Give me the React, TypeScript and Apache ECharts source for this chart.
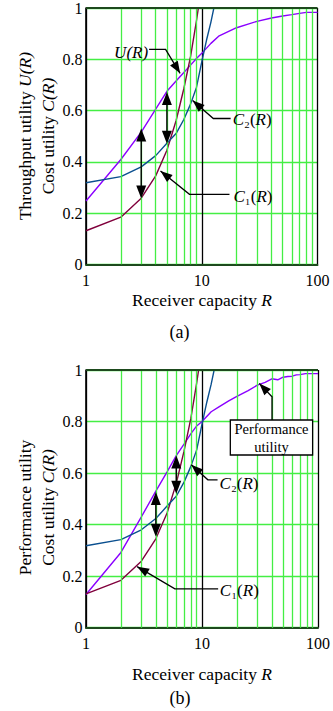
import React, { useEffect, useRef } from 'react';
import * as echarts from 'echarts';

const FONT = 'Liberation Serif, Times New Roman, serif';

// ---- data ----
const R_U_TOP = [1, 2, 3, 4, 5, 6, 7, 8, 9, 10, 12, 14, 20, 30, 40, 50, 60, 70, 80, 90, 100];
const U_TOP = [0.247, 0.409, 0.516, 0.605, 0.675, 0.715, 0.748, 0.777, 0.803, 0.823, 0.862, 0.89, 0.923, 0.948, 0.961, 0.969, 0.974, 0.979, 0.983, 0.983, 0.983];

const R_U_BOTTOM = [1, 2, 3, 4, 5, 6, 7, 8, 9, 10, 12, 14, 17, 20, 25, 30, 35, 40, 45, 50, 55, 60, 65, 70, 78, 85, 100];
const U_BOTTOM = [0.129, 0.292, 0.43, 0.53, 0.605, 0.668, 0.712, 0.752, 0.783, 0.8, 0.838, 0.857, 0.88, 0.898, 0.92, 0.941, 0.952, 0.966, 0.962, 0.972, 0.975, 0.976, 0.981, 0.982, 0.986, 0.986, 0.986];

const R_C1 = [1, 2, 3, 4, 5, 6, 7, 8, 9, 10];
const C1 = [0.131, 0.184, 0.258, 0.345, 0.445, 0.56, 0.685, 0.81, 0.95, 1.09];

const R_C2 = [1, 2, 3, 4, 5, 6, 7, 8, 9, 10, 11, 12, 13];
const C2 = [0.318, 0.342, 0.38, 0.424, 0.472, 0.51, 0.565, 0.625, 0.69, 0.79, 0.875, 0.945, 1.02];

const MINOR_R = [2, 3, 4, 5, 6, 7, 8, 9, 20, 30, 40, 50, 60, 70, 80, 90];

// double arrows: [R, upper value, lower value]
const GAPS_TOP = [[3, 0.53, 0.257], [5, 0.672, 0.47]];
const GAPS_BOTTOM = [[4, 0.527, 0.353], [6, 0.668, 0.52]];

// leader annotations: tip in data coords, path/text offsets in px from tip
type Leader = {
  r: number; v: number;
  path: number[][];
  text?: string; tx?: number; ty?: number; align?: string;
  box?: number[]; lines?: string[];
};

const LEADERS_TOP: Leader[] = [
  { r: 6.5, v: 0.745, path: [[-31, -24], [-14.5, -24]], text: '{i|U(R)}', tx: -32, ty: -21, align: 'right' },
  { r: 8.34, v: 0.639, path: [[38, 18], [20.7, 18]], text: '{i|C}{n|₂}{n|(}{i|R}{n|)}', tx: 40, ty: 18.5, align: 'left' },
  { r: 4.4, v: 0.364, path: [[69, 23.3], [29, 23.3]], text: '{i|C}{n|₁}{n|(}{i|R}{n|)}', tx: 73, ty: 25.5, align: 'left' },
];

const LEADERS_BOTTOM: Leader[] = [
  { r: 31.2, v: 0.948, path: [[12.7, 36.6], [12.7, 13.3]], box: [-29, 36.6, 82.3, 35], lines: ['Performance', 'utility'] },
  { r: 8.08, v: 0.632, path: [[26.3, 15], [16.6, 15]], text: '{i|C}{n|₂}{n|(}{i|R}{n|)}', tx: 28.3, ty: 19, align: 'left' },
  { r: 2.76, v: 0.237, path: [[81, 22.3], [37.7, 22.3]], text: '{i|C}{n|₁}{n|(}{i|R}{n|)}', tx: 82.7, ty: 23.5, align: 'left' },
];

const GREEN = '#44ee44';
const DARKGREEN = '#1d4a1d';
const PURPLE = '#8a00ff';
const MAROON = '#80003c';
const BLUE = '#0a4f8f';

const rich = (size: number) => ({
  i: { fontFamily: FONT, fontSize: size, fontStyle: 'italic', fill: '#000' },
  n: { fontFamily: FONT, fontSize: size, fill: '#000' },
});

function head(tip: number[], from: number[], L = 12, W = 4.5) {
  const dx = tip[0] - from[0];
  const dy = tip[1] - from[1];
  const len = Math.hypot(dx, dy) || 1;
  const ux = dx / len;
  const uy = dy / len;
  const bx = tip[0] - ux * L;
  const by = tip[1] - uy * L;
  return {
    type: 'polygon',
    shape: { points: [tip, [bx - uy * W, by + ux * W], [bx + uy * W, by - ux * W]] },
    style: { fill: '#000' },
  };
}

function makeRender(gaps: number[][], leaders: Leader[]) {
  return (params: any, api: any) => {
    const i = params.dataIndex;
    if (i < gaps.length) {
      const [r, hi, lo] = gaps[i];
      const p1 = api.coord([r, hi]);
      const p2 = api.coord([r, lo]);
      return {
        type: 'group',
        children: [
          { type: 'line', shape: { x1: p1[0], y1: p1[1] + 6, x2: p2[0], y2: p2[1] - 6 }, style: { stroke: '#000', lineWidth: 1.4 } },
          head(p1, p2, 13, 5),
          head(p2, p1, 13, 5),
        ],
      };
    }
    const a = leaders[i - gaps.length];
    const tip = api.coord([a.r, a.v]);
    const pts = a.path.map((p) => [tip[0] + p[0], tip[1] + p[1]]);
    const last = pts[pts.length - 1];
    const children: any[] = [
      { type: 'polyline', shape: { points: [...pts, tip] }, style: { stroke: '#000', lineWidth: 1.3, fill: null } },
      head(tip, last, 12, 4.5),
    ];
    if (a.text) {
      children.push({
        type: 'text',
        x: tip[0] + (a.tx as number),
        y: tip[1] + (a.ty as number),
        style: {
          text: a.text, rich: rich(17), fontFamily: FONT, fontSize: 17, fill: '#000',
          align: a.align, verticalAlign: 'middle',
        },
      });
    }
    if (a.box && a.lines) {
      const [bx, by, bw, bh] = a.box;
      children.push({
        type: 'rect',
        shape: { x: tip[0] + bx, y: tip[1] + by, width: bw, height: bh },
        style: { stroke: '#000', lineWidth: 1.3, fill: '#fff' },
      });
      a.lines.forEach((ln, k) => {
        children.push({
          type: 'text',
          x: tip[0] + bx + bw / 2,
          y: tip[1] + by + 8.5 + k * 18.3,
          style: { text: ln, fontFamily: FONT, fontSize: 14.5, fill: '#000', align: 'center', verticalAlign: 'middle' },
        });
      });
    }
    return { type: 'group', children };
  };
}

const pairs = (xs: number[], ys: number[]) => xs.map((x, k) => [x, ys[k]]);

function buildOption() {
  const grids = [
    { left: 86, top: 7.3, width: 231.5, height: 257 },
    { left: 86, top: 370, width: 232.3, height: 257.7 },
  ];
  const xAxis = [0, 1].map((g) => ({
    gridIndex: g, type: 'log', logBase: 10, min: 1, max: 100,
    axisLine: { show: true, onZero: false, lineStyle: { color: DARKGREEN, width: 2 } },
    axisTick: { show: false },
    axisLabel: { margin: 8, fontFamily: FONT, fontSize: 16, color: '#000' },
    splitLine: { show: true, lineStyle: { color: '#000', width: 1.3 } },
    minorSplitLine: { show: false },
  }));
  const yAxis = [0, 1].map((g) => ({
    gridIndex: g, type: 'value', min: 0, max: 1, interval: 0.2,
    axisLine: { show: true, onZero: false, lineStyle: { color: '#000', width: 1.6 } },
    axisTick: { show: false },
    axisLabel: { margin: 3.5, fontFamily: FONT, fontSize: 16, color: '#000' },
    splitLine: { show: true, lineStyle: { color: GREEN, width: 1.3 } },
  }));

  const series: any[] = [];
  [0, 1].forEach((g) => {
    series.push({
      type: 'line', xAxisIndex: g, yAxisIndex: g, data: [], z: 1, silent: true,
      markLine: {
        silent: true, symbol: 'none', label: { show: false }, animation: false,
        lineStyle: { color: GREEN, width: 1.3, type: 'solid' },
        data: [
          ...MINOR_R.map((r) => ({ xAxis: r })),
          { yAxis: 1, lineStyle: { color: DARKGREEN, width: 2, type: 'solid' } },
        ],
      },
    });
    const U = g === 0 ? pairs(R_U_TOP, U_TOP) : pairs(R_U_BOTTOM, U_BOTTOM);
    const curves = [
      { data: U, color: PURPLE },
      { data: pairs(R_C1, C1), color: MAROON },
      { data: pairs(R_C2, C2), color: BLUE },
    ];
    curves.forEach((c) => {
      series.push({
        type: 'line', xAxisIndex: g, yAxisIndex: g, data: c.data, showSymbol: false, symbol: 'none',
        lineStyle: { color: c.color, width: 1.4 }, clip: true, z: 3, silent: true,
      });
    });
    const gaps = g === 0 ? GAPS_TOP : GAPS_BOTTOM;
    const leaders = g === 0 ? LEADERS_TOP : LEADERS_BOTTOM;
    series.push({
      type: 'custom', xAxisIndex: g, yAxisIndex: g, z: 5, clip: false, silent: true,
      data: [...gaps.map((q) => [q[0], q[1]]), ...leaders.map((l) => [l.r, l.v])],
      renderItem: makeRender(gaps, leaders),
    });
  });

  const txt = (x: number, y: number, text: string, size: number, rot = 0) => ({
    type: 'text', x, y, rotation: rot, silent: true,
    style: { text, rich: rich(size), fontFamily: FONT, fontSize: size, fill: '#000', align: 'center', verticalAlign: 'middle' },
  });

  const graphic = [
    txt(25, 136, '{n|Throughput utility }{i|U(R)}', 17.5, Math.PI / 2),
    txt(48, 136, '{n|Cost utility }{i|C(R)}', 17.5, Math.PI / 2),
    txt(202, 299.5, '{n|Receiver capacity }{i|R}', 17.5),
    txt(179.5, 331.7, '{n|(a)}', 18),
    txt(25, 507.5, '{n|Performance utility}', 17.5, Math.PI / 2),
    txt(48, 507.5, '{n|Cost utility }{i|C(R)}', 17.5, Math.PI / 2),
    txt(202, 674, '{n|Receiver capacity }{i|R}', 17.5),
    txt(180, 698.3, '{n|(b)}', 18),
  ];

  return {
    animation: false,
    backgroundColor: '#fff',
    textStyle: { fontFamily: FONT },
    grid: grids,
    xAxis,
    yAxis,
    series,
    graphic,
  };
}

export default function App() {
  const ref = useRef<HTMLDivElement>(null);
  useEffect(() => {
    if (!ref.current) return;
    const chart = echarts.init(ref.current, undefined, { renderer: 'svg' });
    chart.setOption(buildOption() as any);
    return () => chart.dispose();
  }, []);
  return (
    <div
      ref={ref}
      style={{ position: 'fixed', left: 0, top: 0, width: 333, height: 711, background: '#fff' }}
    />
  );
}
